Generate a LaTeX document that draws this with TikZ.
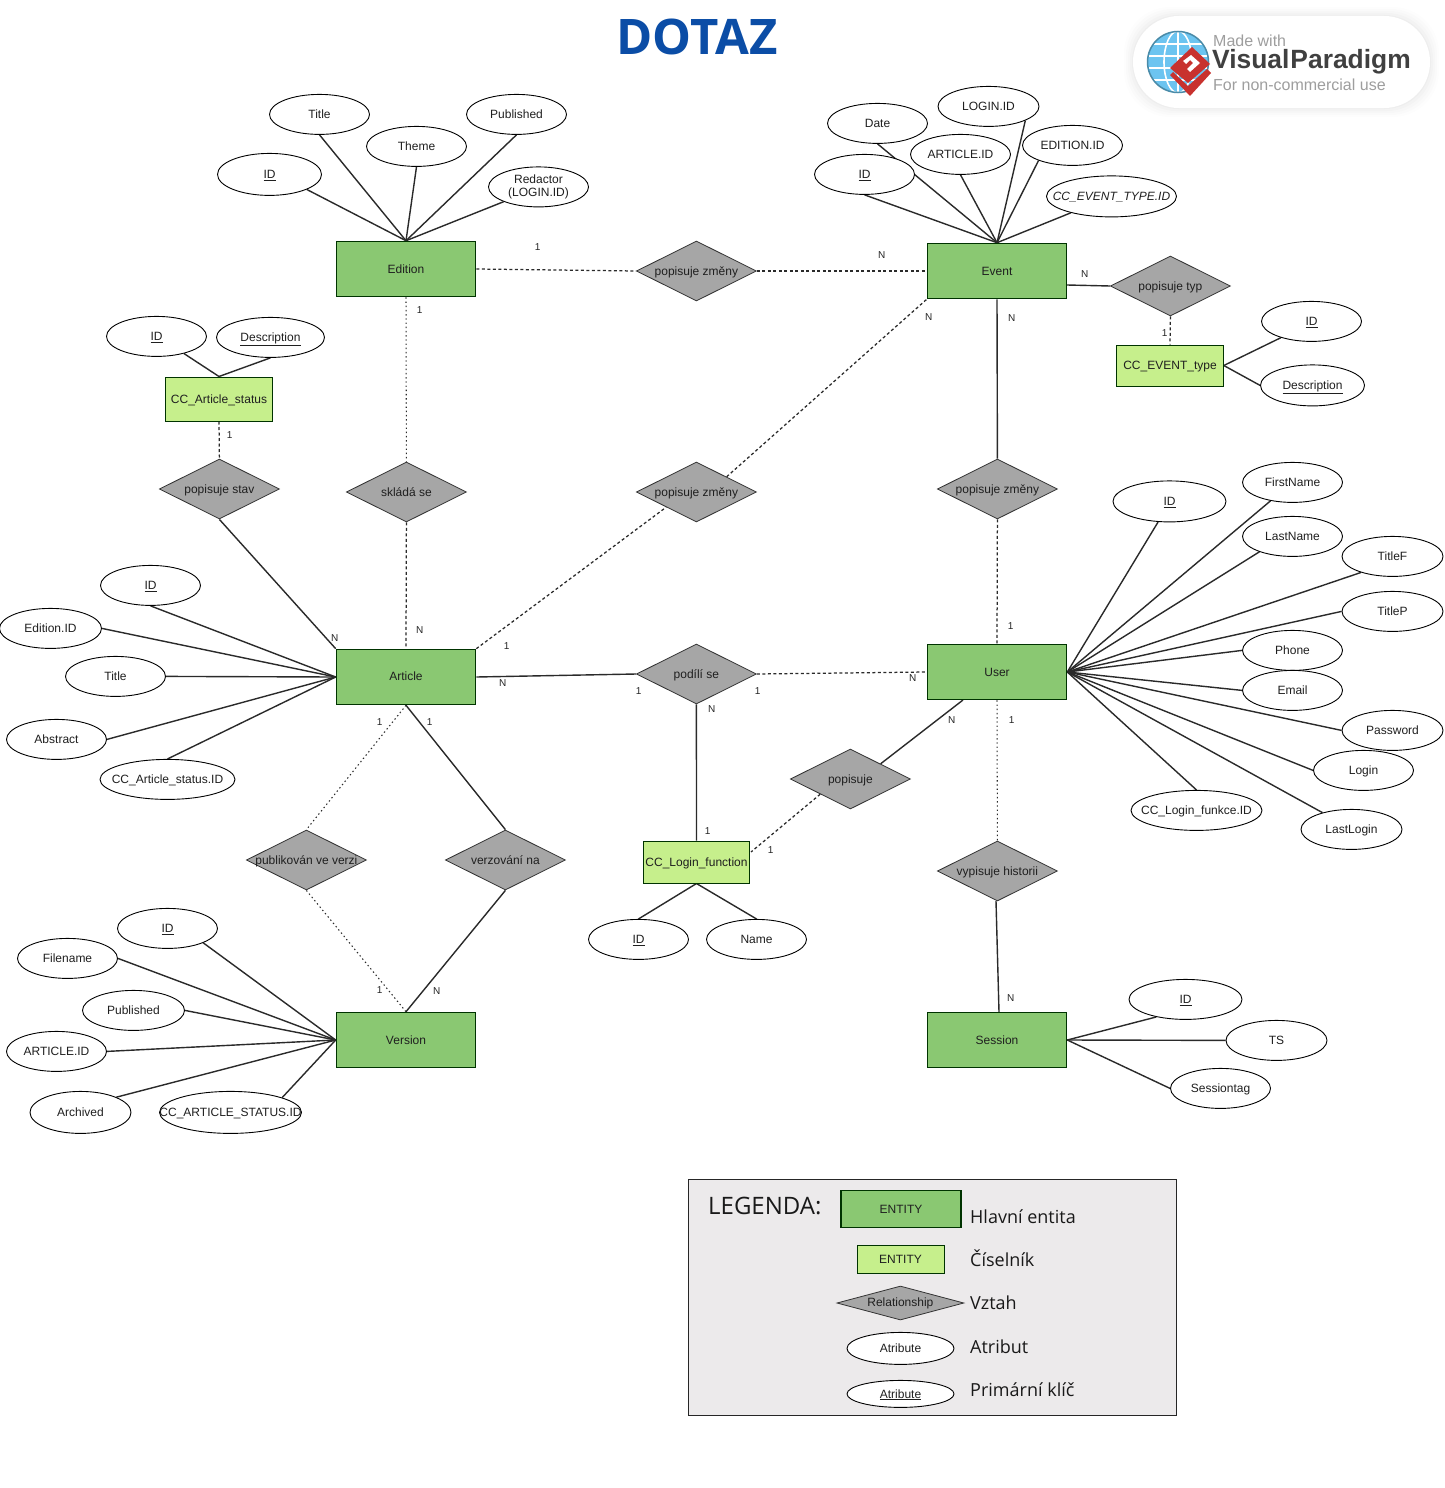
\documentclass[tikz,border=0pt]{standalone}
\usepackage{fontspec}
\setmainfont{Liberation Sans}
\newfontfamily\opensans{Open Sans}
\usetikzlibrary{shapes.geometric,backgrounds}
\definecolor{entgreen}{HTML}{8AC872}
\definecolor{ccgreen}{HTML}{C6EF8C}
\definecolor{relgrey}{HTML}{A6A6A6}
\definecolor{legendbg}{HTML}{ECEAEB}
\definecolor{linecol}{HTML}{2A2A2A}
\definecolor{titleblue}{HTML}{0B4DA6}
\definecolor{globeblue}{HTML}{6CC4F0}
\definecolor{globeedge}{HTML}{4A8BA8}
\definecolor{logored}{HTML}{C8322E}
\tikzset{
  base/.style={font=\fontsize{12}{13.5}\selectfont,text=black!88,inner sep=0pt,text height=9pt,text depth=.5pt},
  entity/.style={base,rectangle,draw=black!80!green,line width=1pt,fill=entgreen,minimum width=139.6pt,minimum height=55.6pt},
  codebook/.style={base,rectangle,draw=black!80!green,line width=1pt,fill=ccgreen,minimum width=106.6pt,minimum height=43pt},
  rel/.style={base,diamond,aspect=2,draw=black!80,line width=.8pt,fill=relgrey,minimum width=120pt,minimum height=60pt,xshift=.4pt},
  attr/.style={base,ellipse,draw=black,line width=.9pt,fill=white,minimum width=100pt,minimum height=40pt,xshift=.5pt,yshift=-.4pt},
  card/.style={font=\fontsize{10}{11}\selectfont,text=black!85,inner sep=0pt,xshift=.7pt,yshift=-.5pt},
  solidline/.style={draw=linecol,line width=1.4pt},
  dashline/.style={draw=linecol,line width=1.25pt,dash pattern=on 3pt off 2.5pt},
  dotline/.style={draw=linecol,line width=1.05pt,dash pattern=on 1.4pt off 2.8pt},
  legendtext/.style={font=\opensans\fontsize{18}{20}\selectfont,text=black!90,inner sep=0pt,anchor=west},
  logogrey/.style={inner sep=0pt,anchor=west,text=black!38,font=\fontsize{16}{17}\selectfont},
}
\newcommand{\tight}[1]{\makebox[0pt][c]{#1}}
\begin{document}
\begin{tikzpicture}[x=1pt,y=-1pt]
\useasboundingbox (0,0) rectangle (1444,1488);

% title
\node[inner sep=0pt,text=titleblue,font=\opensans\bfseries\fontsize{49}{52}\selectfont] (title) at (697,37) {DOTAZ};

% logo
\foreach \g/\o in {9/.008,7/.01,5/.012,3/.015,1/.02}{
  \fill[black,opacity=\o,rounded corners=46pt] ({1133-\g},{16-\g}) rectangle ({1430+\g},{108+\g});
}
\fill[white,rounded corners=46pt] (1133,16) rectangle (1430,108);
\begin{scope}
  \clip (1178,62) circle (30.5pt);
  \fill[globeblue] (1178,62) circle (31pt);
  \foreach \yy in {44,56,68,80}{\draw[white,line width=1.6pt] (1145,\yy) -- (1211,\yy);}
  \draw[white,line width=1.6pt] (1178,30) -- (1178,94);
  \draw[white,line width=1.6pt] (1178,31) arc[start angle=90,end angle=270,x radius=14pt,y radius=31pt];
  \draw[white,line width=1.6pt] (1178,31) arc[start angle=90,end angle=-90,x radius=14pt,y radius=31pt];
\end{scope}
\draw[globeedge,line width=1.5pt] (1178,62) circle (30.5pt);
\fill[logored] (1192,47) -- (1210,64) -- (1188,83) -- (1170,68) -- cycle;
\fill[white] (1191,55) -- (1200,63) -- (1190,72) -- (1187,69) -- (1193,63) -- (1190,60) -- (1186,64) -- (1183,61) -- cycle;
\fill[logored] (1170,75) -- (1173,72) -- (1188,86) -- (1207,69) -- (1211,73) -- (1190,96) -- cycle;
\node[logogrey] (logoA) at (1213,40.5) {Made with};
\node[inner sep=0pt,anchor=west,text=black!75,font=\bfseries\fontsize{26.4}{30}\selectfont] (logoB) at (1212,62) {Visual\hspace{1pt}Paradigm};
\node[logogrey] (logoC) at (1213,85) {For non-commercial use};

% entities
\node[entity] (edition) at (406,269) {Edition};
\node[entity] (event) at (997,271) {Event};
\node[entity,text depth=2.5pt] (article) at (406,677) {Article};
\node[entity] (user) at (997,672) {User};
\node[entity] (version) at (406,1040) {Version};
\node[entity] (session) at (997,1040) {Session};
\node[codebook,minimum width=107.6pt,minimum height=44pt] (ccstatus) at (219,399) {CC\_Article\_status};
\node[codebook,minimum height=41pt] (cctype) at (1170,365.5) {CC\_EVENT\_type};
\node[codebook,minimum height=42pt] (cclogin) at (696.5,862) {CC\_Login\_function};

% relationships
\node[rel] (r1) at (696,271) {popisuje změny};
\node[rel] (r2) at (1170,286) {popisuje typ};
\node[rel] (r3) at (696,492) {popisuje změny};
\node[rel] (r4) at (219,489) {popisuje stav};
\node[rel] (r5) at (406,492) {skládá se};
\node[rel] (r6) at (997,489) {popisuje změny};
\node[rel] (r7) at (696,674) {podílí se};
\node[rel] (r8) at (850,779) {popisuje};
\node[rel] (r9) at (306,860) {\tight{publikován ve verzi}};
\node[rel] (r10) at (505,860) {verzování na};
\node[rel] (r11) at (997,871) {\tight{vypisuje historii}};

% attributes: Edition
\node[attr] (edTitle) at (319,114) {Title};
\node[attr] (edTheme) at (416,146) {Theme};
\node[attr] (edPub) at (516,114) {Published};
\node[attr,align=center,text height=,text depth=] (edRed) at (538,186.5) {Redactor\\(LOGIN.ID)};
\node[attr,minimum width=104pt,minimum height=42pt] (edId) at (269,174) {\underline{ID}};
% Event
\node[attr] (evDate) at (877,123) {Date};
\node[attr,minimum width=101pt] (evLogin) at (988,106) {LOGIN.ID};
\node[attr] (evArt) at (960,154) {ARTICLE.ID};
\node[attr] (evId) at (864,174) {\underline{ID}};
\node[attr] (evEd) at (1072,145) {EDITION.ID};
\node[attr,minimum width=130pt,minimum height=41pt] (evCc) at (1111,196) {\tight{\textit{CC\_EVENT\_TYPE.ID}}};
% status
\node[attr] (stId) at (156,336) {\underline{ID}};
\node[attr,minimum width=108pt] (stDesc) at (270,337) {\underline{Description}};
% event type
\node[attr] (tyId) at (1311,321) {\underline{ID}};
\node[attr,minimum width=104pt,minimum height=41pt] (tyDesc) at (1312,385) {\underline{Description}};
% Article
\node[attr] (arId) at (150,585) {\underline{ID}};
\node[attr,minimum width=102pt] (arEd) at (50,628) {Edition.ID};
\node[attr] (arTitle) at (115,676) {Title};
\node[attr] (arAbs) at (56,739) {Abstract};
\node[attr,minimum width=135pt] (arCc) at (167,779) {\tight{CC\_Article\_status.ID}};
% User
\node[attr,minimum width=113pt,minimum height=41pt] (usId) at (1169,501) {\underline{ID}};
\node[attr] (usFirst) at (1292,482) {FirstName};
\node[attr] (usLast) at (1292,536) {LastName};
\node[attr,minimum width=101pt] (usF) at (1392,556) {TitleF};
\node[attr,minimum width=101pt] (usP) at (1392,611) {TitleP};
\node[attr] (usPhone) at (1292,650) {Phone};
\node[attr] (usMail) at (1292,690) {Email};
\node[attr,minimum width=101pt] (usPass) at (1392,730) {Password};
\node[attr] (usLogin) at (1363,770) {Login};
\node[attr,minimum width=101pt] (usLast2) at (1351,829) {LastLogin};
\node[attr,minimum width=131pt] (usCc) at (1196,810) {\tight{CC\_Login\_funkce.ID}};
% Login function
\node[attr] (loId) at (638,939) {\underline{ID}};
\node[attr] (loName) at (756,939) {Name};
% Version
\node[attr] (veId) at (167,928) {\underline{ID}};
\node[attr] (veFile) at (67,958) {Filename};
\node[attr,minimum width=102pt] (vePub) at (133,1010) {Published};
\node[attr] (veArt) at (56,1051) {ARTICLE.ID};
\node[attr,minimum width=101pt,minimum height=42pt] (veArch) at (80,1112) {Archived};
\node[attr,minimum width=142pt,minimum height=42pt] (veCc) at (230,1112) {\tight{CC\_ARTICLE\_STATUS.ID}};
% Session
\node[attr,minimum width=113pt] (seId) at (1185,999) {\underline{ID}};
\node[attr,minimum width=101pt] (seTs) at (1276,1040) {TS\hspace{3pt}};
\node[attr] (seTag) at (1220,1088) {Sessiontag\hspace{1.5pt}};

% named free ends
\coordinate (eventR) at (1067,285);
\coordinate (userS) at (963,700);
\coordinate (loginR) at (751,852);
\coordinate (sessionT) at (999,1012);
\coordinate (histS) at (996,901);

\begin{scope}[on background layer]
  \fill[white] (0,0) rectangle (1444,1488);
  % Edition attributes
  \foreach \a in {edTitle.south,edTheme.south,edPub.south,edRed.-157,edId.-22}{\draw[solidline] (\a) -- (edition.north);}
  % Event attributes
  \foreach \a in {evDate.south,evLogin.-21,evArt.south,evId.south,evEd.204,evCc.202}{\draw[solidline] (\a) -- (event.north);}
  % status, type
  \foreach \a in {stId.-32,stDesc.south}{\draw[solidline] (\a) -- (ccstatus.north);}
  \foreach \a in {tyId.208,tyDesc.west}{\draw[solidline] (\a) -- (cctype.east);}
  % Article
  \foreach \a in {arId.south,arEd.east,arTitle.east,arAbs.east,arCc.north}{\draw[solidline] (\a) -- (article.west);}
  % User
  \foreach \a in {usId.241,usFirst.220,usLast.205,usF.207,usP.west,usPhone.west,usMail.west,usPass.west,usLogin.west,usLast2.150,usCc.north}{\draw[solidline] (\a) -- (user.east);}
  % Login function
  \foreach \a in {loId.north,loName.north}{\draw[solidline] (\a) -- (cclogin.south);}
  % Version
  \foreach \a in {veId.-22,veFile.east,vePub.east,veArt.east,veArch.23,veCc.16}{\draw[solidline] (\a) -- (version.west);}
  % Session
  \foreach \a in {seId.211,seTs.west,seTag.west}{\draw[solidline] (\a) -- (session.east);}
  % relationships
  \draw[dashline] (edition.east) -- (r1.west);
  \draw[dashline] (r1.east) -- (event.west);
  \draw[solidline] (eventR) -- (r2.west);
  \draw[dashline] (r2.south) -- (cctype.north);
  \draw[dashline] (article.north east) -- (r3.south west);
  \draw[dashline] (r3.north east) -- (event.south west);
  \draw[dotline] (edition.south) -- (r5.north);
  \draw[dashline] (r5.south) -- (article.north);
  \draw[dashline] (ccstatus.south) -- (r4.north);
  \draw[solidline] (r4.south) -- (article.north west);
  \draw[solidline] (event.south) -- (r6.north);
  \draw[dashline] (r6.south) -- (user.north);
  \draw[dotline] (user.south) -- (r11.north);
  \draw[solidline] (histS) -- (sessionT);
  \draw[solidline] (article.east) -- (r7.west);
  \draw[dashline] (r7.east) -- (user.west);
  \draw[solidline] (r7.south) -- (cclogin.north);
  \draw[solidline] (userS) -- (r8.north east);
  \draw[dashline] (r8.south west) -- (loginR);
  \draw[dotline] (article.south) -- (r9.north);
  \draw[dotline] (r9.south) -- (version.north);
  \draw[solidline] (article.south) -- (r10.north);
  \draw[solidline] (r10.south) -- (version.north);
\end{scope}

% cardinalities
\node[card] (c1) at (537,247) {1};
\node[card] (c2) at (881,255) {N};
\node[card] (c3) at (1084,274) {N};
\node[card] (c4) at (1164,333) {1};
\node[card] (c5) at (419,310) {1};
\node[card] (c6) at (928,317) {N};
\node[card] (c7) at (1011,318) {N};
\node[card] (c8) at (229,435) {1};
\node[card] (c9) at (334,638) {N};
\node[card] (c10) at (419,630) {N};
\node[card] (c11) at (506,646) {1};
\node[card] (c12) at (502,683) {N};
\node[card] (c13) at (638,691) {1};
\node[card] (c14) at (757,691) {1};
\node[card] (c15) at (711,709) {N};
\node[card] (c16) at (912,678) {N};
\node[card] (c17) at (1010,626) {1};
\node[card] (c18) at (951,720) {N};
\node[card] (c19) at (1011,720) {1};
\node[card] (c20) at (379,722) {1};
\node[card] (c21) at (429,722) {1};
\node[card] (c22) at (707,831) {1};
\node[card] (c23) at (770,850) {1};
\node[card] (c24) at (379,990) {1};
\node[card] (c25) at (436,991) {N};
\node[card] (c26) at (1010,998) {N};

% legend
\node[rectangle,draw=black!85,line width=.9pt,fill=legendbg,minimum width=488pt,minimum height=236pt,inner sep=0pt] (legend) at (932,1297) {};
\node[legendtext,font=\opensans\fontsize{24}{26}\selectfont] (lgTitle) at (708,1206) {LEGENDA:};
\node[entity,minimum width=120pt,minimum height=37pt,line width=1.4pt] (lgE1) at (901,1209) {ENTITY};
\node[codebook,minimum width=87pt,minimum height=28pt] (lgE2) at (900.5,1259) {ENTITY};
\node[rel,minimum width=127pt,minimum height=34pt,aspect=3.7,text depth=2.5pt] (lgR) at (900,1303) {Relationship};
\node[attr,minimum width=107pt,minimum height=32pt] (lgA1) at (900,1348) {Atribute};
\node[attr,minimum width=107pt,minimum height=27pt] (lgA2) at (900,1393.5) {\underline{Atribute}};
\node[legendtext] (lgT1) at (970,1217) {Hlavní entita};
\node[legendtext] (lgT2) at (970,1258.5) {Číselník};
\node[legendtext] (lgT3) at (970,1303) {Vztah};
\node[legendtext] (lgT4) at (970,1347) {Atribut};
\node[legendtext] (lgT5) at (970,1390) {Primární klíč};
\end{tikzpicture}
\end{document}
